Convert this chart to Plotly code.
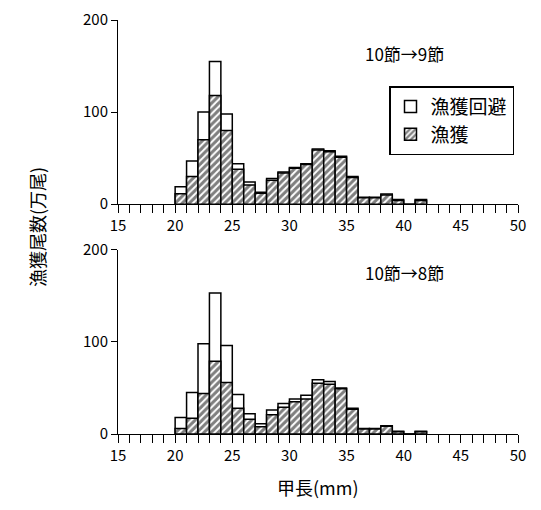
import plotly.graph_objects as go
from plotly.subplots import make_subplots

# carapace length bins (mm), lower edge
lengths = list(range(20, 42))

# 10節→9節
total_9 = [19, 47, 100, 155, 98, 44, 24, 13, 28, 35, 40, 44, 60, 58, 52, 30, 7.5, 7.5, 11, 5, 0, 5]
catch_9 = [11.5, 30, 70, 118, 80, 38, 21, 12, 26, 34, 39, 43, 59, 57, 51, 29, 7, 7, 10, 4, 0, 4]

# 10節→8節
total_8 = [18, 45, 98, 153, 96, 43, 22, 11, 26, 33, 38, 42, 59, 57, 50, 28, 6, 6, 9, 3, 0, 3]
catch_8 = [6, 17, 44, 79, 56, 28, 16, 8, 21, 29, 35, 38, 55, 54, 49, 27, 5.5, 5.5, 8.5, 2.5, 0, 2.5]

FONT = "Noto Sans CJK JP"

fig = make_subplots(rows=2, cols=1, vertical_spacing=0.11)

hatch = dict(shape="/", fgcolor="black", bgcolor="white", size=5, solidity=0.6)
for row, total, catch in [(1, total_9, catch_9), (2, total_8, catch_8)]:
    fig.add_trace(go.Bar(x=lengths, y=total, width=1, offset=0, name="漁獲回避",
                         marker=dict(color="white", line=dict(color="black", width=1.5)),
                         showlegend=(row == 1)), row=row, col=1)
    fig.add_trace(go.Bar(x=lengths, y=catch, width=1, offset=0, name="漁獲",
                         marker=dict(color="white", pattern=hatch,
                                     line=dict(color="black", width=1.5)),
                         showlegend=(row == 1)), row=row, col=1)

fig.update_xaxes(range=[15, 50], tickvals=list(range(15, 51, 5)), ticks="outside",
                 ticklen=8, tickcolor="black", showline=True, linecolor="black",
                 linewidth=1, showgrid=False, zeroline=False,
                 minor=dict(dtick=1, ticks="outside", ticklen=8, tickcolor="black"),
                 tickfont=dict(size=15))
fig.update_yaxes(range=[0, 200], tickvals=[0, 100, 200], ticks="outside", ticklen=6,
                 tickcolor="black", showline=True, linecolor="black", linewidth=1,
                 showgrid=False, zeroline=False, tickfont=dict(size=15))

fig.add_annotation(text="10節→9節", xref="paper", yref="paper", x=0.82, y=0.955,
                   showarrow=False, font=dict(size=17))
fig.add_annotation(text="10節→8節", xref="paper", yref="paper", x=0.82, y=0.39,
                   showarrow=False, font=dict(size=17))
fig.add_annotation(text="漁獲尾数(万尾)", xref="paper", yref="paper", x=-0.24, y=0.5,
                   textangle=-90, showarrow=False, font=dict(size=18))
fig.add_annotation(text="甲長(mm)", xref="paper", yref="paper", x=0.5, y=-0.165,
                   showarrow=False, font=dict(size=18))

fig.update_layout(
    width=541, height=510,
    margin=dict(l=110, r=31, t=0, b=84),
    barmode="overlay",
    plot_bgcolor="white", paper_bgcolor="white",
    font=dict(family=FONT, color="black"),
    legend=dict(x=0.99, y=0.84, xanchor="right", yanchor="top",
                bordercolor="black", borderwidth=1.5, font=dict(size=19),
                traceorder="normal", tracegroupgap=2),
)

fig.write_html("out.html")
